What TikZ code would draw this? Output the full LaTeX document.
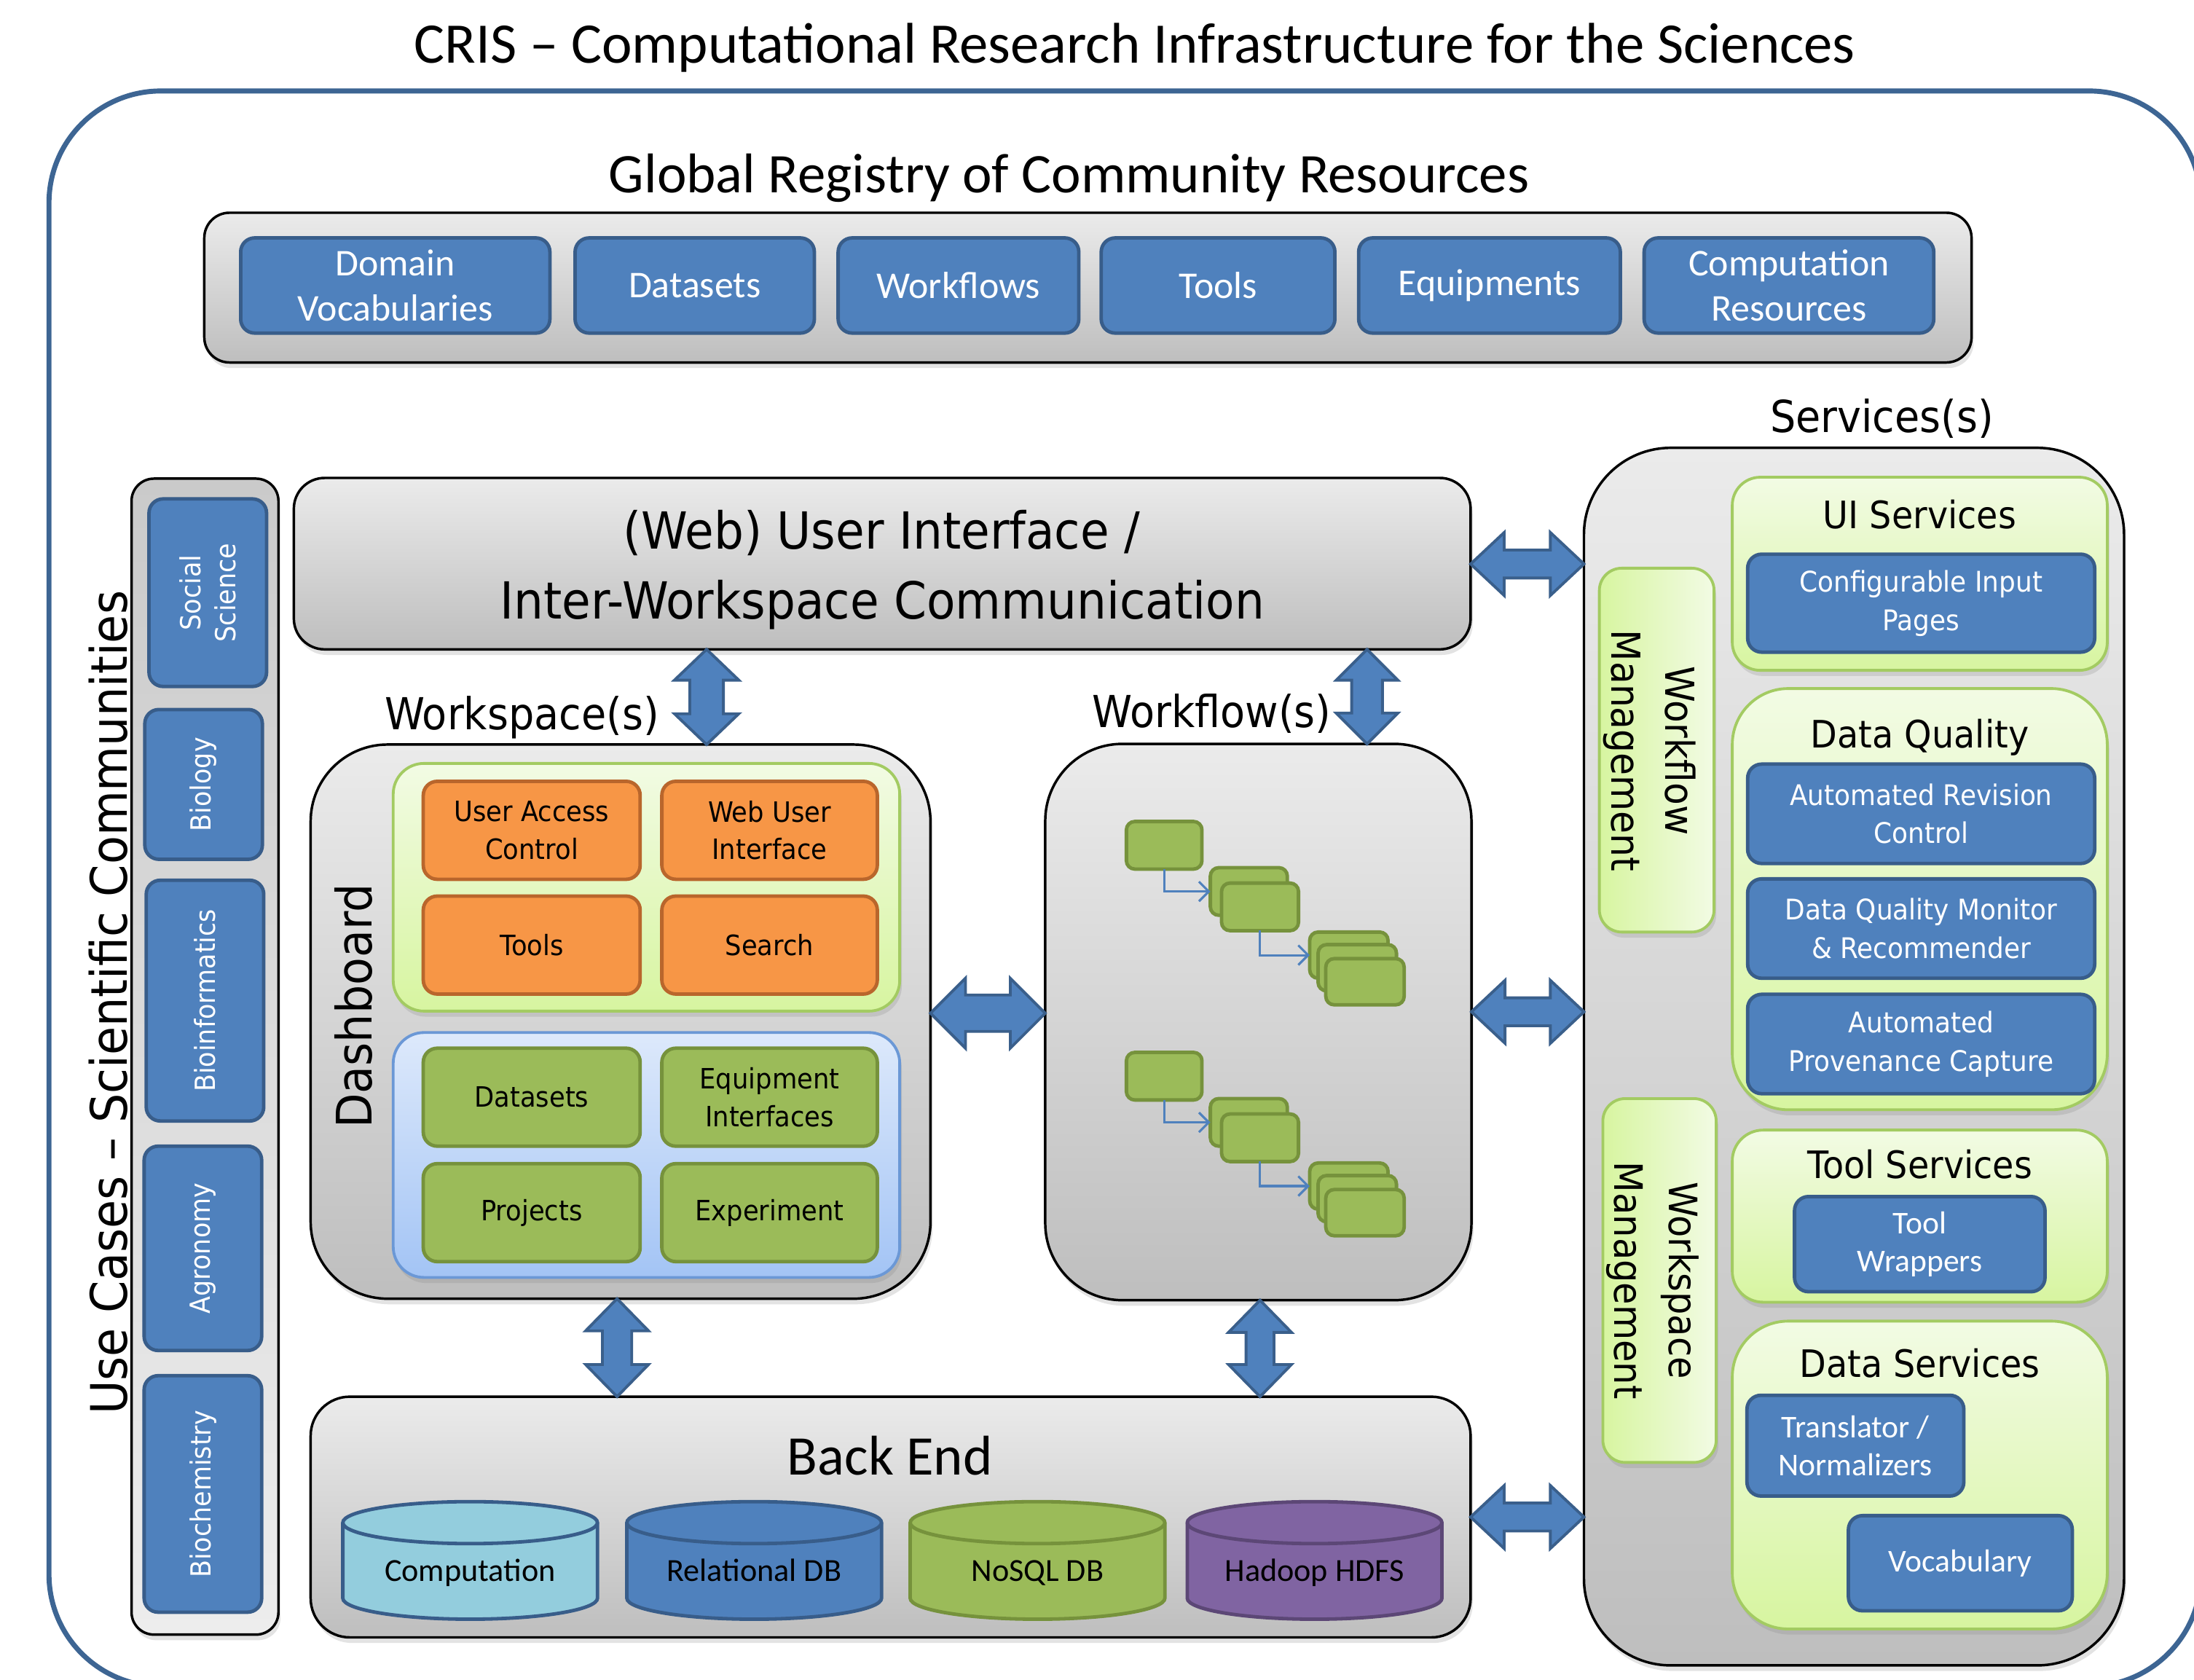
\documentclass[tikz,border=0pt]{standalone}
\usepackage{fontspec}
\setmainfont{Carlito}
\newfontfamily\tah{DejaVu Sans}[FakeStretch=0.92]
\usetikzlibrary{calc,shadows,arrows.meta}

\definecolor{blueF}{HTML}{4F81BD}
\definecolor{blueD}{HTML}{385D8A}
\definecolor{frameC}{HTML}{3D6593}
\definecolor{grayT}{HTML}{EBEBEB}
\definecolor{grayB}{HTML}{BEBEBE}
\definecolor{orF}{HTML}{F79646}
\definecolor{orD}{HTML}{B9662C}
\definecolor{grF}{HTML}{9BBB59}
\definecolor{grD}{HTML}{76923C}
\definecolor{lgT}{HTML}{F2FBE4}
\definecolor{lgB}{HTML}{D7F5A0}
\definecolor{lgD}{HTML}{A3CB62}
\definecolor{lbT}{HTML}{DDE9FB}
\definecolor{lbB}{HTML}{A3C4F5}
\definecolor{lbD}{HTML}{6B98D6}
\definecolor{aqF}{HTML}{93CDDD}
\definecolor{puF}{HTML}{8064A2}
\definecolor{puD}{HTML}{5C4776}
\definecolor{arD}{HTML}{3A5F8B}
\definecolor{ucT}{HTML}{CACACA}
\definecolor{ucB}{HTML}{EDEDED}

\newcommand\fs[2]{\fontsize{#1}{#2}\selectfont}

% vertical double-headed block arrow: top point, bottom point, half head, half shaft, head length
\newcommand\vdarrow[5]{%
  \draw[dbl] let \p1=#1, \p2=#2 in
    (\x1,\y1) -- (\x1+#3pt,\y1-#5pt) -- (\x1+#4pt,\y1-#5pt) -- (\x1+#4pt,\y2+#5pt)
    -- (\x1+#3pt,\y2+#5pt) -- (\x1,\y2) -- (\x1-#3pt,\y2+#5pt) -- (\x1-#4pt,\y2+#5pt)
    -- (\x1-#4pt,\y1-#5pt) -- (\x1-#3pt,\y1-#5pt) -- cycle;}
% horizontal double-headed block arrow: left point, right point, half head, half shaft, head length
\newcommand\hdarrow[5]{%
  \draw[dbl] let \p1=#1, \p2=#2 in
    (\x1,\y1) -- (\x1+#5pt,\y1+#3pt) -- (\x1+#5pt,\y1+#4pt) -- (\x2-#5pt,\y1+#4pt)
    -- (\x2-#5pt,\y1+#3pt) -- (\x2,\y1) -- (\x2-#5pt,\y1-#3pt) -- (\x2-#5pt,\y1-#4pt)
    -- (\x1+#5pt,\y1-#4pt) -- (\x1+#5pt,\y1-#3pt) -- cycle;}
% database cylinder drawn over an invisible node: node, fill, border
\newcommand\dbcyl[3]{%
  \path[fill=#2, draw=#3, line width=2.5pt]
    ($(#1.north west)+(0,15)$) -- ($(#1.south west)+(0,-15)$)
    arc[start angle=180, end angle=360, x radius=91pt, y radius=15pt]
    -- ($(#1.north east)+(0,15)$)
    arc[start angle=0, end angle=180, x radius=91pt, y radius=15pt] -- cycle;
  \draw[#3, line width=2.5pt] ($(#1.north west)+(0,15)$)
    arc[start angle=180, end angle=360, x radius=91pt, y radius=15pt];}

\begin{document}
\begin{tikzpicture}[x=1pt,y=-1pt,
  softshadow/.style={drop shadow={shadow xshift=1.5pt, shadow yshift=-4pt, opacity=0.22}},
  panel/.style={draw=black, line width=1.8pt, top color=grayT, bottom color=grayB,
    softshadow, inner sep=0pt, outer sep=0pt},
  bbox/.style={draw=blueD, fill=blueF, line width=2.5pt, rounded corners=10pt,
    text=white, align=center, inner sep=0pt, outer sep=0pt},
  obox/.style={draw=orD, fill=orF, line width=2.5pt, rounded corners=10pt, align=center,
    font={\tah\fs{20}{27}}, minimum width=155, minimum height=70, inner sep=0pt},
  gbox/.style={draw=grD, fill=grF, line width=2.5pt, rounded corners=10pt, align=center,
    font={\tah\fs{20}{27}}, minimum width=155, minimum height=70, inner sep=0pt},
  lgcont/.style={draw=lgD, line width=2pt, top color=lgT, bottom color=lgB,
    softshadow, inner sep=0pt, outer sep=0pt},
  lbcont/.style={draw=lbD, line width=2pt, top color=lbT, bottom color=lbB,
    softshadow, inner sep=0pt, outer sep=0pt},
  mgbar/.style={draw=lgD, line width=2pt, left color=lgB, right color=lgT,
    rounded corners=16pt, softshadow, inner sep=0pt, outer sep=0pt},
  mini/.style={draw=grD, fill=grF, line width=2.5pt, rounded corners=6pt,
    minimum width=54, minimum height=34, inner sep=0pt, outer sep=0pt},
  flow/.style={draw=blueF, line width=1.6pt, -{Straight Barb[length=7pt,width=14pt]}},
  dbl/.style={fill=blueF, draw=arD, line width=2pt, line join=miter},
  cylnode/.style={minimum width=182, minimum height=84, inner sep=0pt, outer sep=0pt},
  svtitle/.style={anchor=base, font={\tah\fs{27}{32}}},
  svtext/.style={font={\tah\fs{20.3}{27.5}}},
  cbtext/.style={font={\fs{22.7}{27}}},
]
\useasboundingbox (0,0) rectangle (1568,1200);
\clip (0,0) rectangle (1568,1200);
\fill[white] (0,0) rectangle (1568,1200);

% outer frame
\draw[frameC, line width=3.6pt, rounded corners=80pt] (35,65) rectangle (1573,1205);

\node[anchor=base, font={\fs{41}{49}}] (title) at (811,45)
  {CRIS – Computational Research Infrastructure for the Sciences};

% global registry
\node[anchor=base, font={\fs{40}{48}}] (reglbl) at (764,137.5)
  {Global Registry of Community Resources};
\node[panel, rounded corners=18pt, minimum width=1263, minimum height=107] (reg) at (777.5,205.5) {};
\begin{scope}[every node/.style={bbox, minimum height=68, font={\fs{27}{32}}}]
  \node[minimum width=221] (rdv) at (282.5,204) {Domain\\Vocabularies};
  \node[minimum width=171] (rds) at (496.5,204) {Datasets};
  \node[minimum width=172] (rwf) at (685,204) {Workflows};
  \node[minimum width=167] (rtl) at (870.5,204) {Tools};
  \node[minimum width=187] (req) at (1064.5,204) {Equipments};
  \node[minimum width=207] (rcr) at (1278.5,204) {Computation\\Resources};
\end{scope}

% use cases column
\node[anchor=base, rotate=90, font={\tah\fs{36}{42}}] (uclbl) at (91,716.5)
  {Use Cases – Scientific Communities};
\node[draw=black, line width=1.8pt, top color=ucT, bottom color=ucB, rounded corners=16pt,
  softshadow, minimum width=105, minimum height=826, inner sep=0pt] (ucp) at (146.5,755) {};
\begin{scope}[every node/.style={bbox, minimum width=84}]
  \node[minimum height=134] (soc) at (148.5,423.5) {};
  \node[minimum height=107] (bio) at (145.5,560.5) {};
  \node[minimum height=172] (binf) at (146.5,715) {};
  \node[minimum height=146] (agr) at (145,892) {};
  \node[minimum height=169] (bch) at (145,1067.5) {};
\end{scope}
\begin{scope}[every node/.style={rotate=90, text=white, align=center, font={\tah\fs{19.8}{25}}}]
  \node (soct) at (soc) {Social\\Science};
  \node (biot) at (bio) {Biology};
  \node (binft) at (binf) {Bioinformatics};
  \node (agrt) at (agr) {Agronomy};
  \node (bcht) at (bch) {Biochemistry};
\end{scope}

% user interface
\node[panel, rounded corners=22pt, minimum width=841, minimum height=122.5] (ui) at (630.5,402.75) {};
\node[anchor=base, font={\tah\fs{36.5}{44}}] (uit1) at (630,392) {(Web) User Interface /};
\node[anchor=base, font={\tah\fs{36.5}{44}}] (uit2) at (630.5,442) {Inter-Workspace Communication};

% workspace
\node[anchor=base, font={\tah\fs{31.5}{36}}] (wslbl) at (373,521.5) {Workspace(s)};
\node[panel, rounded corners=55pt, minimum width=443, minimum height=396] (ws) at (443.5,730) {};
\node[anchor=base, rotate=90, font={\tah\fs{35}{40}}] (dash) at (265.5,719) {Dashboard};
\node[lgcont, rounded corners=22pt, minimum width=362, minimum height=177] (dg) at (462,634) {};
\node[obox] (uac) at (380,593.3) {User Access\\Control};
\node[obox, minimum width=154] (wui) at (550,593.3) {Web User\\Interface};
\node[obox] (dtools) at (380,675.3) {Tools};
\node[obox, minimum width=154] (dsearch) at (550,675.3) {Search};
\node[lbcont, rounded corners=22pt, minimum width=362, minimum height=175] (db) at (462,825.3) {};
\node[gbox] (dsets) at (380,784) {Datasets};
\node[gbox, minimum width=154] (eqi) at (550,784) {Equipment\\Interfaces};
\node[gbox] (proj) at (380,866.5) {Projects};
\node[gbox, minimum width=154] (expt) at (550,866.5) {Experiment};

% workflows
\node[anchor=base, font={\tah\fs{31.5}{36}}] (wflbl) at (866,520) {Workflow(s)};
\node[panel, rounded corners=55pt, minimum width=304.6, minimum height=397.5] (wf) at (899.3,730.3) {};
\foreach \g/\dy in {1/0, 2/165} {
  \node[mini] (wa\g) at (832,604+\dy) {};
  \node[mini, minimum width=55] (wbb\g) at (892.5,637+\dy) {};
  \node[mini, minimum width=55] (wbf\g) at (900.5,648+\dy) {};
  \node[mini, minimum width=56, minimum height=33] (wcb\g) at (964,682.5+\dy) {};
  \node[mini, minimum width=56, minimum height=33] (wcm\g) at (970,691.5+\dy) {};
  \node[mini, minimum width=56, minimum height=33] (wcf\g) at (975.5,701.5+\dy) {};
  \draw[flow] (wa\g.south) |- (wbb\g.west);
  \draw[flow] (wbf\g.south) |- (wcb\g.west);
}

% back end
\node[panel, rounded corners=28pt, minimum width=829, minimum height=172] (be) at (636.5,1084) {};
\node[anchor=base, font={\fs{40}{48}}] (belbl) at (636,1054) {Back End};
\node[cylnode] (cy1) at (336,1115) {};
\node[cylnode] (cy2) at (539,1115) {};
\node[cylnode] (cy3) at (741.5,1115) {};
\node[cylnode] (cy4) at (939.5,1115) {};
\dbcyl{cy1}{aqF}{blueD}
\dbcyl{cy2}{blueF}{blueD}
\dbcyl{cy3}{grF}{grD}
\dbcyl{cy4}{puF}{puD}
\begin{scope}[every node/.style={anchor=base, font={\fs{23}{28}}}]
  \node (cy1t) at (336,1130) {Computation};
  \node (cy2t) at (539,1130) {Relational DB};
  \node (cy3t) at (741.5,1130) {NoSQL DB};
  \node (cy4t) at (939.5,1130) {Hadoop HDFS};
\end{scope}

% services
\node[anchor=base, font={\tah\fs{31.5}{36}}] (svlbl) at (1345,309) {Services(s)};
\node[panel, rounded corners=62pt, minimum width=386, minimum height=870] (srv) at (1325,755) {};
\node[mgbar, minimum width=82, minimum height=260] (wfm) at (1184,536) {};
\node[anchor=base, rotate=-90, font={\tah\fs{28.5}{34}}] (wfmt1) at (1190.5,536.5) {Workflow};
\node[anchor=base, rotate=-90, font={\tah\fs{28.5}{34}}] (wfmt2) at (1152,536.5) {Management};
\node[mgbar, minimum width=81, minimum height=260] (wsm) at (1186,915) {};
\node[anchor=base, rotate=-90, font={\tah\fs{28}{34}}] (wsmt1) at (1193,915) {Workspace};
\node[anchor=base, rotate=-90, font={\tah\fs{28}{34}}] (wsmt2) at (1153.6,915) {Management};

\node[lgcont, rounded corners=20pt, minimum width=268, minimum height=138] (uis) at (1372,410) {};
\node[svtitle] (uist) at (1372,377.5) {UI Services};
\node[bbox, svtext, minimum width=248, minimum height=70] (cip) at (1373,431) {Configurable Input\\Pages};

\node[lgcont, rounded corners=40pt, minimum width=268, minimum height=301] (dq) at (1372,642.5) {};
\node[svtitle] (dqt) at (1372,534.5) {Data Quality};
\node[bbox, svtext, minimum width=248, minimum height=71] (arc) at (1373,581.5) {Automated Revision\\Control};
\node[bbox, svtext, minimum width=248, minimum height=71] (dqm) at (1373,663.5) {Data Quality Monitor\\\& Recommender};
\node[bbox, svtext, minimum width=248, minimum height=71] (apc) at (1373,746) {Automated\\Provenance Capture};

\node[lgcont, rounded corners=22pt, minimum width=268, minimum height=123] (ts) at (1372,869) {};
\node[svtitle] (tst) at (1372,842) {Tool Services};
\node[bbox, cbtext, minimum width=179, minimum height=68] (tw) at (1372,889) {Tool\\Wrappers};

\node[lgcont, rounded corners=40pt, minimum width=268, minimum height=220] (dsv) at (1372,1054) {};
\node[svtitle] (dsvt) at (1372,984) {Data Services};
\node[bbox, cbtext, minimum width=155, minimum height=72] (tn) at (1326,1033) {Translator /\\Normalizers};
\node[bbox, cbtext, minimum width=160, minimum height=68] (voc) at (1401,1117) {Vocabulary};

% block arrows between the layers
\coordinate (xws) at (505,0);
\coordinate (xwf) at (977,0);
\coordinate (xbe1) at (441,0);
\coordinate (xbe2) at (900.5,0);
\coordinate (yui) at (0,403);
\coordinate (ymid) at (0,724);
\coordinate (ymid2) at (0,723);
\coordinate (ybe) at (0,1084);
\vdarrow{(xws |- ui.south)}{(xws |- ws.north)}{23}{12}{22}
\vdarrow{(xwf |- ui.south)}{(xwf |- wf.north)}{22}{11}{22}
\vdarrow{(xbe1 |- ws.south)}{(xbe1 |- be.north)}{22.5}{10.5}{23}
\vdarrow{(xbe2 |- wf.south)}{(xbe2 |- be.north)}{22.5}{10}{23}
\hdarrow{(ui.east |- yui)}{(srv.west |- yui)}{22.5}{10}{24}
\hdarrow{(ws.east |- ymid)}{(wf.west |- ymid)}{25}{13}{25}
\hdarrow{(wf.east |- ymid2)}{(srv.west |- ymid2)}{22.5}{10}{24}
\hdarrow{(be.east |- ybe)}{(srv.west |- ybe)}{22.5}{10}{24}
\end{tikzpicture}
\end{document}
